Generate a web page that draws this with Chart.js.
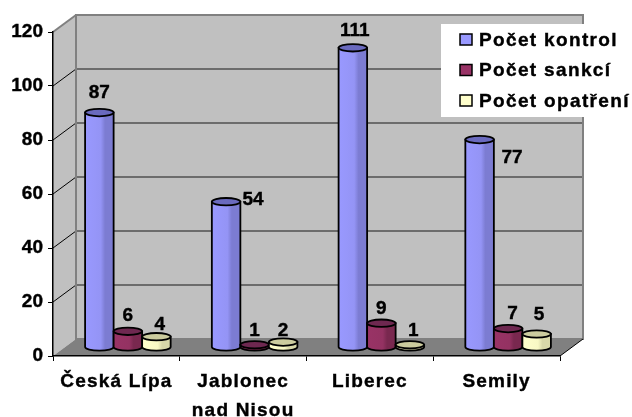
<!DOCTYPE html>
<html>
<head>
<meta charset="utf-8">
<style>
  html, body { margin: 0; padding: 0; background: #fff; }
  canvas { display: block; }
</style>
<script src="https://cdn.jsdelivr.net/npm/chart.js@4"></script>
</head>
<body>
<canvas id="chart" width="632" height="417"></canvas>
<script>
const categories = ['Česká Lípa', ['Jablonec', 'nad Nisou'], 'Liberec', 'Semily'];
const yTicks = [0, 20, 40, 60, 80, 100, 120];
const seriesNames = ['Počet kontrol', 'Počet sankcí', 'Počet opatření'];
const kontrol = [87, 54, 111, 77];
const sankci = [6, 1, 9, 7];
const opatreni = [4, 2, 1, 5];

// hand placed value labels, relative to the top of each cylinder
const labelShift = [
    [[0, -20.5], [27, -2.7], [2, -18], [32.5, 17.5]],
    [[0, -17], [0, -15], [0, -15], [4.5, -16]],
    [[3.5, -13], [0, -12.5], [3.5, -15], [2.5, -20]]
];

const FONT_FAMILY = '"Liberation Sans", Arial, sans-serif';
const FONT = 'bold 19px ' + FONT_FAMILY;
const LEGEND_SPACING = '1.35px';   // legend and category labels are spaced out
const X_SPACING = '1.2px';
const HEAVY = 0.4;                 // the original text is a little heavier than plain bold
const WALL_X = 23, WALL_Y = -17;   // depth of the walls
const BAR_X = 11.5, BAR_Y = -8.5;  // bars stand in the middle of the floor

// left edge, middle, right edge shades + top cap colour
const colors = [
    { solid: '#9999FF', mid: '#9494F5', dark: '#7C7CD2', cap: '#6A6ABE' },
    { solid: '#993366', mid: '#943262', dark: '#79284F', cap: '#6E2850' },
    { solid: '#FFFFCC', mid: '#F8F8C4', dark: '#D8D8A8', cap: '#CCCC9E' }
];

function heavyText(ctx, text, x, y) {
    ctx.fillStyle = '#000';
    ctx.strokeStyle = '#000';
    ctx.lineWidth = HEAVY;
    ctx.fillText(text, x, y);
    ctx.strokeText(text, x, y);
}

const walls3d = {
    id: 'walls3d',
    beforeDraw(chart) {
        const ctx = chart.ctx;
        const { left, right, top, bottom } = chart.chartArea;
        ctx.save();
        ctx.fillStyle = '#C0C0C0';
        ctx.fillRect(left + WALL_X, top + WALL_Y, right - left, bottom - top);
        ctx.beginPath();
        ctx.moveTo(left, top);
        ctx.lineTo(left + WALL_X, top + WALL_Y);
        ctx.lineTo(left + WALL_X, bottom + WALL_Y);
        ctx.lineTo(left, bottom);
        ctx.closePath();
        ctx.fill();

        // floor
        ctx.fillStyle = '#808080';
        ctx.beginPath();
        ctx.moveTo(left, bottom);
        ctx.lineTo(left + WALL_X, bottom + WALL_Y);
        ctx.lineTo(right + WALL_X, bottom + WALL_Y);
        ctx.lineTo(right, bottom);
        ctx.closePath();
        ctx.fill();

        // gridlines on the back wall and their diagonals on the side wall
        const yScale = chart.scales.y;
        yTicks.forEach(t => {
            if (t === 0 || t === 120) return;
            const y = yScale.getPixelForValue(t);
            ctx.strokeStyle = '#000';
            ctx.lineWidth = 1;
            ctx.beginPath();
            ctx.moveTo(left, y);
            ctx.lineTo(left + WALL_X, y + WALL_Y);
            ctx.stroke();
            ctx.strokeStyle = '#505050';
            ctx.lineWidth = 1.5;
            ctx.beginPath();
            ctx.moveTo(left + WALL_X, y + WALL_Y);
            ctx.lineTo(right + WALL_X, y + WALL_Y);
            ctx.stroke();
        });

        // wall edges
        ctx.strokeStyle = '#808080';
        ctx.lineWidth = 2;
        ctx.strokeRect(left + WALL_X, top + WALL_Y, right - left, bottom - top);
        ctx.beginPath();
        ctx.moveTo(left, top);
        ctx.lineTo(left + WALL_X, top + WALL_Y);
        ctx.stroke();
        ctx.strokeStyle = '#000';
        ctx.lineWidth = 1;
        ctx.beginPath();
        ctx.moveTo(right, bottom);
        ctx.lineTo(right + WALL_X, bottom + WALL_Y);
        ctx.stroke();
        ctx.restore();
    },
    beforeDatasetsDraw(chart) {
        chart.ctx.save();
        chart.ctx.translate(BAR_X, BAR_Y);
    },
    afterDatasetsDraw(chart) {
        const ctx = chart.ctx;
        chart.data.datasets.forEach((ds, i) => {
            chart.getDatasetMeta(i).data.forEach(bar => drawCylinder(ctx, bar, colors[i]));
        });
        ctx.restore();

        // value labels
        ctx.save();
        ctx.font = FONT;
        ctx.textAlign = 'center';
        ctx.textBaseline = 'middle';
        chart.data.datasets.forEach((ds, i) => {
            chart.getDatasetMeta(i).data.forEach((bar, j) => {
                const shift = labelShift[i][j];
                heavyText(ctx, String(ds.data[j]), bar.x + BAR_X + shift[0], bar.y + BAR_Y + shift[1] + 1);
            });
        });
        ctx.restore();
    },
    afterDraw(chart) {
        const ctx = chart.ctx;
        ctx.save();
        ctx.fillStyle = '#fff';
        ctx.fillRect(441, 24, 191, 93);
        ctx.font = FONT;
        ctx.letterSpacing = LEGEND_SPACING;
        ctx.textBaseline = 'middle';
        seriesNames.forEach((name, i) => {
            const y = 39.5 + i * 30.5;
            ctx.fillStyle = colors[i].solid;
            ctx.strokeStyle = '#000';
            ctx.lineWidth = 1.5;
            ctx.fillRect(460, y - 5.5, 12, 11);
            ctx.strokeRect(460, y - 5.5, 12, 11);
            heavyText(ctx, name, 479, y + 1);
        });
        ctx.letterSpacing = '0px';
        ctx.restore();
    }
};

function drawCylinder(ctx, bar, c) {
    const rx = bar.width / 2;
    const ry = 3.7;
    const x0 = bar.x - rx, x1 = bar.x + rx;
    const grad = ctx.createLinearGradient(x0, 0, x1, 0);
    grad.addColorStop(0, c.solid);
    grad.addColorStop(0.55, c.mid);
    grad.addColorStop(0.7, c.dark);
    grad.addColorStop(1, c.dark);

    ctx.beginPath();
    ctx.moveTo(x0, bar.y);
    ctx.lineTo(x0, bar.base);
    ctx.ellipse(bar.x, bar.base, rx, ry, 0, Math.PI, 0, true);
    ctx.lineTo(x1, bar.y);
    ctx.closePath();
    ctx.fillStyle = grad;
    ctx.fill();
    ctx.strokeStyle = '#000';
    ctx.lineWidth = 1.8;
    ctx.stroke();

    ctx.beginPath();
    ctx.ellipse(bar.x, bar.y, rx, ry, 0, 0, Math.PI * 2);
    ctx.fillStyle = c.cap;
    ctx.fill();
    ctx.stroke();
}

// only the category labels get the wider spacing
function spaceOutLabels(scale) {
    if (scale.spacedOut) return;
    scale.spacedOut = true;
    const drawLabels = scale.drawLabels;
    scale.drawLabels = function(area) {
        scale.ctx.letterSpacing = X_SPACING;
        drawLabels.call(scale, area);
        scale.ctx.letterSpacing = '0px';
    };
}

new Chart(document.getElementById('chart'), {
    type: 'bar',
    data: {
        labels: categories,
        datasets: [
            { label: seriesNames[0], data: kontrol, backgroundColor: colors[0].solid },
            { label: seriesNames[1], data: sankci, backgroundColor: colors[1].solid },
            { label: seriesNames[2], data: opatreni, backgroundColor: colors[2].solid }
        ]
    },
    options: {
        responsive: false,
        animation: false,
        devicePixelRatio: 1,
        layout: { padding: { top: 32, right: 72, left: 0, bottom: 0 } },
        datasets: { bar: { barPercentage: 1, categoryPercentage: 0.675 } },
        plugins: { legend: { display: false }, tooltip: { enabled: false } },
        scales: {
            x: {
                afterFit: scale => { scale.height = 61; spaceOutLabels(scale); },
                grid: { drawOnChartArea: false, tickLength: 5, tickColor: '#000' },
                border: { color: '#000', width: 1.5 },
                ticks: {
                    color: '#000',
                    autoSkip: false,
                    maxRotation: 0,
                    padding: 6,
                    textStrokeColor: '#000',
                    textStrokeWidth: HEAVY,
                    font: { family: FONT_FAMILY, size: 19, weight: 'bold', lineHeight: 1.55 }
                }
            },
            y: {
                min: 0,
                max: 120,
                afterFit: scale => { scale.width = 53; },
                grid: { drawOnChartArea: false, tickLength: 5, tickColor: '#000' },
                border: { color: '#000', width: 1.5 },
                ticks: {
                    color: '#000',
                    stepSize: 20,
                    padding: 5,
                    textStrokeColor: '#000',
                    textStrokeWidth: HEAVY,
                    font: { family: FONT_FAMILY, size: 19, weight: 'bold' }
                }
            }
        }
    },
    plugins: [walls3d]
});
</script>
</body>
</html>
